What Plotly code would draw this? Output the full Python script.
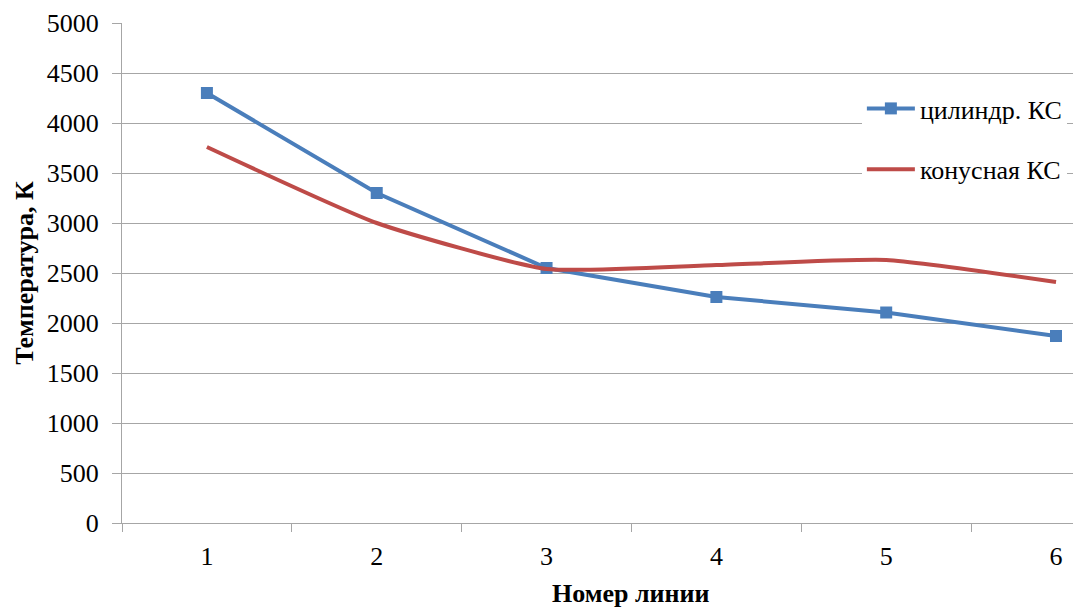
import plotly.graph_objects as go

categories = [1, 2, 3, 4, 5, 6]
cyl_values = [4300, 3300, 2550, 2260, 2105, 1870]
cone_values = [3760, 3000, 2540, 2580, 2630, 2410]
y_ticks = [0, 500, 1000, 1500, 2000, 2500, 3000, 3500, 4000, 4500, 5000]
series_names = ["цилиндр. КС", "конусная КС"]
x_title = "Номер линии"
y_title = "Температура, К"

FONT = "Liberation Serif"
GRID = "#a6a6a6"
FS = 26

fig = go.Figure()
fig.add_trace(go.Scatter(
    x=categories, y=cyl_values, name=series_names[0], mode="lines+markers",
    line=dict(color="#4A7EBB", width=4),
    marker=dict(symbol="square", size=12, color="#4A7EBB"),
    legendgroup="a",
))
fig.add_trace(go.Scatter(
    x=categories, y=cone_values, name=series_names[1], mode="lines",
    line=dict(color="#BE4B48", width=4, shape="spline", smoothing=0.5),
    legendgroup="b",
))

fig.update_layout(
    width=1077, height=607,
    margin=dict(l=122, r=4, t=23, b=84),
    paper_bgcolor="white", plot_bgcolor="white",
    font=dict(family=FONT, size=FS, color="black"),
    showlegend=True,
    legend=dict(
        x=0.778, y=0.876, xanchor="left", yanchor="top",
        bgcolor="white", borderwidth=0,
        font=dict(family=FONT, size=FS, color="black"),
        traceorder="grouped", tracegroupgap=24,
        itemwidth=48,
    ),
    xaxis=dict(
        range=[0.5, 6.1], tickvals=categories, ticktext=[str(c) for c in categories],
        showgrid=False, zeroline=False,
        showline=True, linecolor=GRID, linewidth=1.3,
        ticks="", ticklabelstandoff=10,
        tickfont=dict(family=FONT, size=FS),
        minor=dict(tickvals=[0.5, 1.5, 2.5, 3.5, 4.5, 5.5], ticks="outside",
                   ticklen=8, tickcolor=GRID, tickwidth=1, showgrid=False),
    ),
    yaxis=dict(
        range=[0, 5000], tickvals=y_ticks,
        showgrid=True, gridcolor=GRID, gridwidth=1.3,
        zeroline=False, showline=True, linecolor=GRID, linewidth=1.3,
        ticks="outside", ticklen=9, tickcolor=GRID, tickwidth=1.3,
        ticklabelstandoff=8,
        tickfont=dict(family=FONT, size=FS),
        title=dict(text=y_title, font=dict(family=FONT, size=FS, weight="bold"), standoff=5),
    ),
    annotations=[dict(
        text=x_title, xref="paper", yref="paper", x=0.535, y=-0.14,
        xanchor="center", yanchor="middle", showarrow=False,
        font=dict(family=FONT, size=FS, weight="bold"),
    )],
)

fig.write_html(
    "out.html",
    config={"responsive": False, "displayModeBar": False},
    post_script="document.body.style.margin='0px';document.body.style.overflow='hidden';",
)
